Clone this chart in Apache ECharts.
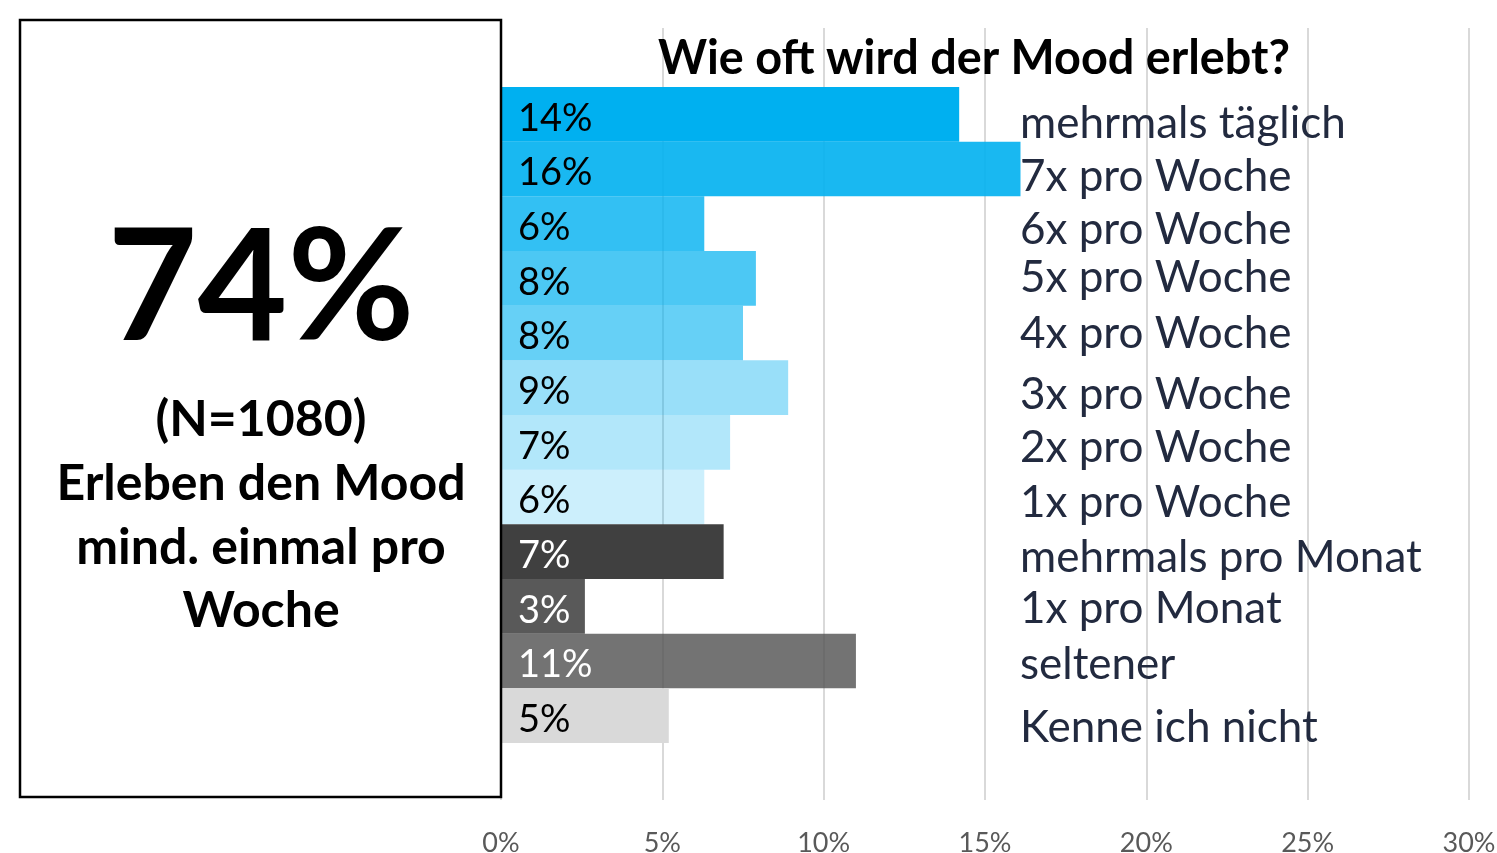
<!DOCTYPE html>
<html>
<head>
<meta charset="utf-8">
<script src="https://cdn.jsdelivr.net/npm/echarts@6/dist/echarts.min.js"></script>
<style>
html,body{margin:0;padding:0;background:#fff;}
#chart{width:1497px;height:853px;}
</style>
</head>
<body>
<div id="chart"></div>
<script>
// ---- data ----
const categories = ['mehrmals täglich','7x pro Woche','6x pro Woche','5x pro Woche','4x pro Woche','3x pro Woche','2x pro Woche','1x pro Woche','mehrmals pro Monat','1x pro Monat','seltener','Kenne ich nicht'];
const values = [14.2, 16.1, 6.3, 7.9, 7.5, 8.9, 7.1, 6.3, 6.9, 2.6, 11.0, 5.2];
const valueLabels = ['14%','16%','6%','8%','8%','9%','7%','6%','7%','3%','11%','5%'];
const xTicks = [0, 5, 10, 15, 20, 25, 30];
const titleText = 'Wie oft wird der Mood erlebt?';
const bigNumber = '74%';
const boxLines = ['(N=1080)', 'Erleben den Mood', 'mind. einmal pro', 'Woche'];

// ---- styles ----
const barColors = ['#00B0F0','rgba(0,176,240,0.9)','rgba(0,176,240,0.8)','rgba(0,176,240,0.7)','rgba(0,176,240,0.6)','rgba(0,176,240,0.4)','rgba(0,176,240,0.3)','rgba(0,176,240,0.2)','#404040','#595959','rgba(80,80,80,0.8)','#D9D9D9'];
const labelColors = ['#000','#000','#000','#000','#000','#000','#000','#000','#fff','#fff','#fff','#000'];
// small vertical nudges of the category texts (px, downwards)
const labelNudge = [9, 8, 6, -1, 1, 7, 5, 6, 6, 2, 4, 12];
const FONT = 'Lato, "Open Sans", sans-serif';

const chart = echarts.init(document.getElementById('chart'), null, {renderer:'canvas'});

const richStyles = {};
labelNudge.forEach((n, i) => {
  const pad = 2 * n;
  richStyles['s' + i] = {
    fontFamily: FONT, fontSize: 44, color: '#222a3f',
    padding: pad >= 0 ? [pad, 0, 0, 0] : [0, 0, -pad, 0]
  };
});

const option = {
  backgroundColor: '#fff',
  animation: false,
  title: {
    text: titleText,
    left: 969, top: 30,
    textAlign: 'center',
    textStyle: {fontFamily: FONT, fontWeight: 'bold', fontSize: 46.8, color: '#000'}
  },
  grid: [
    {left: 501, right: 28, top: 28, bottom: 53, containLabel: false, outerBoundsMode: 'none'},
    {left: 501, right: 28, top: 87, height: 656, containLabel: false, outerBoundsMode: 'none'}
  ],
  xAxis: [
    {
      gridIndex: 0, type: 'value', min: 0, max: 30, interval: 5,
      axisLine: {show: false}, axisTick: {show: false},
      splitLine: {show: true, lineStyle: {color: '#d9d9d9', width: 2}},
      axisLabel: {
        margin: 30, fontFamily: FONT, fontSize: 27, color: '#595959',
        formatter: v => xTicks.indexOf(v) >= 0 ? v + '%' : ''
      }
    },
    {
      gridIndex: 1, type: 'value', min: 0, max: 30,
      show: false
    }
  ],
  yAxis: [
    {gridIndex: 0, type: 'value', show: false, min: 0, max: 1},
    {
      gridIndex: 1, type: 'category', data: categories, inverse: true,
      position: 'right', offset: -449,
      axisLine: {show: false}, axisTick: {show: false},
      axisLabel: {
        interval: 0, hideOverlap: false,
        margin: 0, align: 'left', fontFamily: FONT, fontSize: 44,
        color: '#222a3f',
        formatter: (v, idx) => '{s' + categories.indexOf(v) + '|' + v + '}',
        rich: richStyles
      }
    }
  ],
  series: [{
    type: 'bar',
    xAxisIndex: 1, yAxisIndex: 1,
    barWidth: '100%',
    data: values.map((v, i) => ({value: v, itemStyle: {color: barColors[i]}, label: {color: labelColors[i]}})),
    label: {
      show: true, position: 'insideLeft', distance: 17, offset: [0, 4],
      fontFamily: FONT, fontSize: 38,
      formatter: p => valueLabels[p.dataIndex]
    }
  }],
  graphic: [
    {type: 'rect', shape: {x: 20, y: 20, width: 481, height: 777}, style: {fill: 'rgba(0,0,0,0)', stroke: '#000', lineWidth: 2.5}, z: 10},
    {type: 'text', x: 261, y: 290, style: {text: bigNumber, fontFamily: FONT, fontWeight: 'bold', fontSize: 155, fill: '#000', textAlign: 'center', textVerticalAlign: 'middle'}},
    {type: 'text', x: 261, y: 420, style: {text: boxLines[0], fontFamily: FONT, fontWeight: 'bold', fontSize: 50, fill: '#000', textAlign: 'center', textVerticalAlign: 'middle'}},
    {type: 'text', x: 261, y: 484, style: {text: boxLines[1], fontFamily: FONT, fontWeight: 'bold', fontSize: 50, fill: '#000', textAlign: 'center', textVerticalAlign: 'middle'}},
    {type: 'text', x: 261, y: 548, style: {text: boxLines[2], fontFamily: FONT, fontWeight: 'bold', fontSize: 50, fill: '#000', textAlign: 'center', textVerticalAlign: 'middle'}},
    {type: 'text', x: 261, y: 611, style: {text: boxLines[3], fontFamily: FONT, fontWeight: 'bold', fontSize: 50, fill: '#000', textAlign: 'center', textVerticalAlign: 'middle'}}
  ]
};
chart.setOption(option);
</script>
</body>
</html>
